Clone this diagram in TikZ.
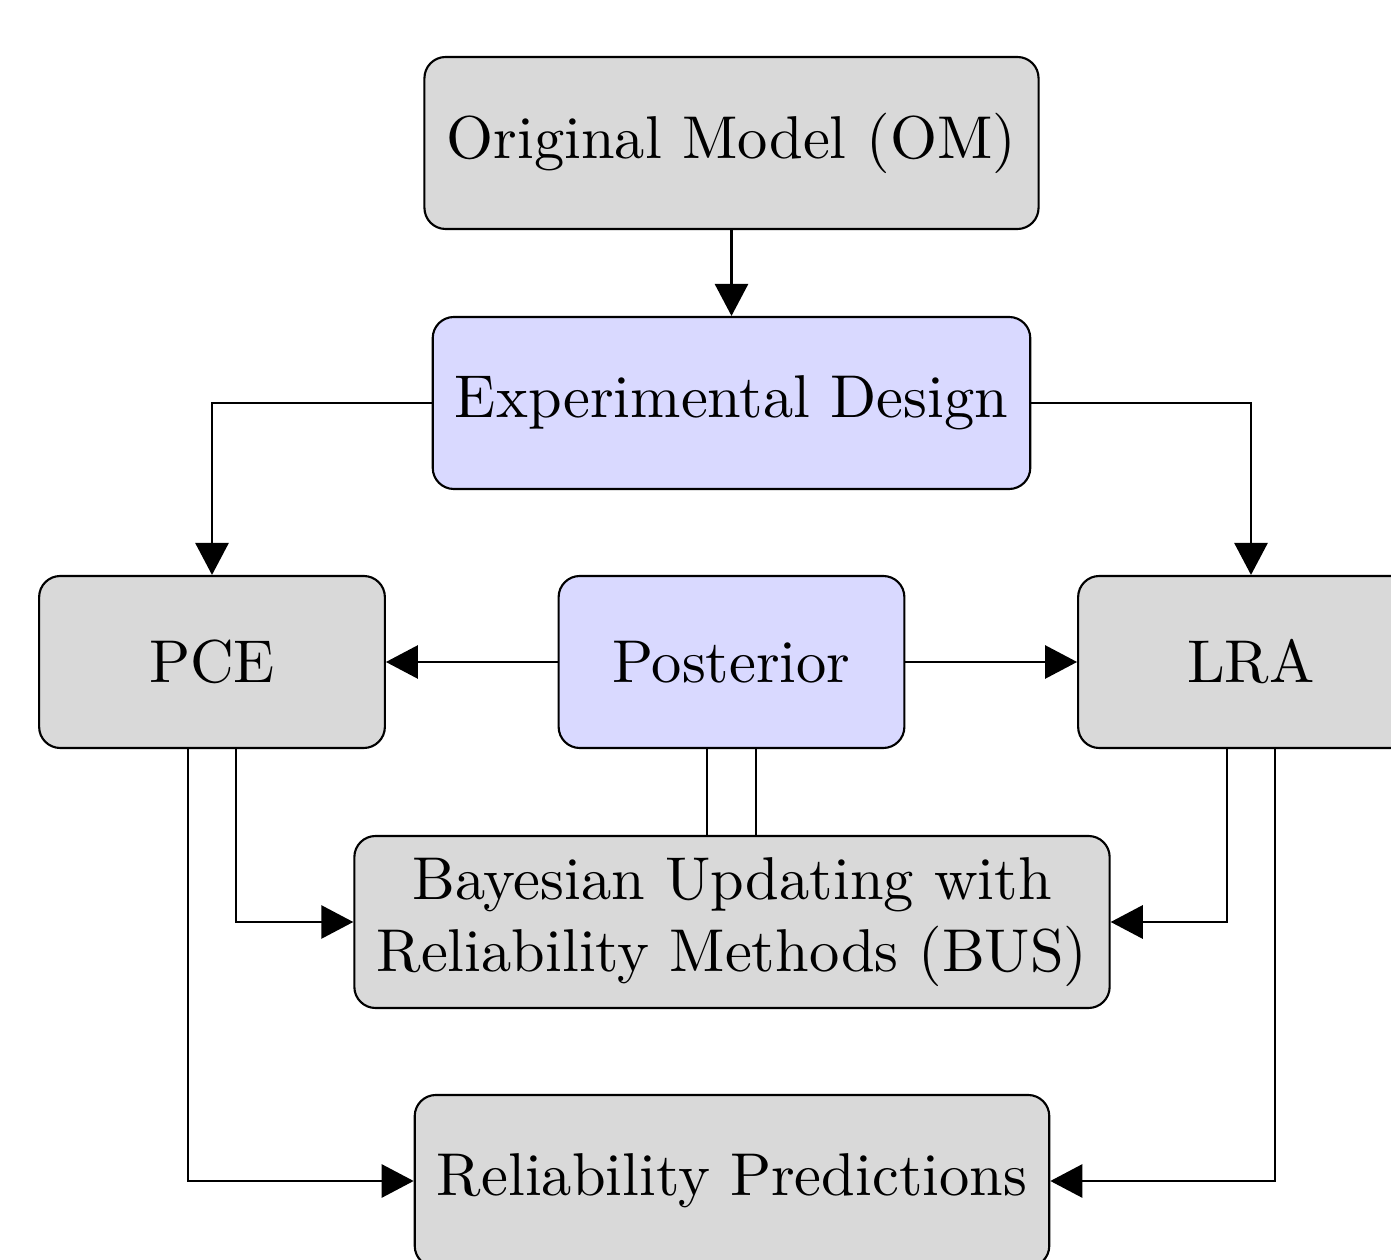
\documentclass[tikz,border=0pt]{standalone}
\usetikzlibrary{arrows.meta,calc}
\begin{document}
\begin{tikzpicture}[x=0.0058140cm, y=-0.0058140cm,
  box/.style={draw=black, line width=0.35pt, rounded corners=3.5pt, fill=gray!30, minimum height=1cm, inner xsep=3.68pt, align=center},
  bluebox/.style={box, fill=blue!15},
  smallbox/.style={minimum width=2.01cm},
  conn/.style={line width=0.35pt, -{Triangle[length=5.3pt,width=5.5pt]}},
  plain/.style={line width=0.35pt}]
\useasboundingbox (0,0) rectangle (1391,1260);
\node[box] (om) at (731.5,143) {Original Model (OM)};
\node[bluebox] (ed) at (731.5,403) {Experimental Design};
\node[box, smallbox] (pce) at (212,662) {PCE};
\node[bluebox, smallbox] (post) at (731.5,662) {Posterior};
\node[box, smallbox] (lra) at (1251,662) {LRA};
\node[box] (bus) at (732,922) {Bayesian Updating with\\Reliability Methods (BUS)};
\node[box] (rp) at (732,1181) {Reliability Predictions};
\draw[conn] (om) -- (ed);
\draw[conn] (ed.west) -| (pce.north);
\draw[conn] (ed.east) -| (lra.north);
\draw[conn] (post) -- (pce);
\draw[conn] (post) -- (lra);
\draw[plain] ([xshift=-4pt]post.south) -- ([xshift=-4pt]post.south |- bus.north);
\draw[plain] ([xshift=4pt]post.south) -- ([xshift=4pt]post.south |- bus.north);
\draw[conn] ([xshift=4pt]pce.south) |- (bus.west);
\draw[conn] ([xshift=-4pt]pce.south) |- (rp.west);
\draw[conn] ([xshift=-4pt]lra.south) |- (bus.east);
\draw[conn] ([xshift=4pt]lra.south) |- (rp.east);
\end{tikzpicture}
\end{document}
